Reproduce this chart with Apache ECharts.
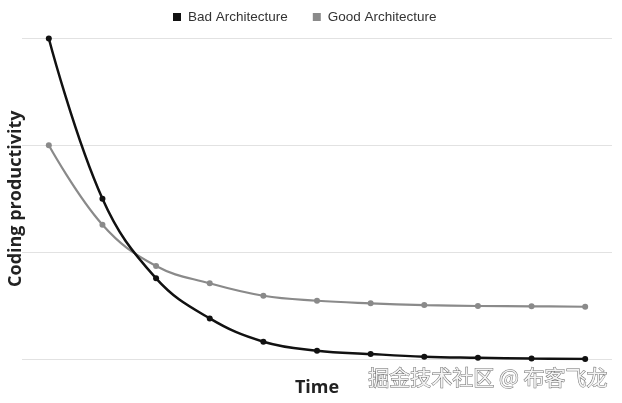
<!DOCTYPE html>
<html>
<head>
<meta charset="utf-8">
<script src="https://cdn.jsdelivr.net/npm/echarts@6/dist/echarts.min.js"></script>
<style>html,body{margin:0;padding:0;background:#fff}#c{width:622px;height:403px}</style>
</head>
<body>
<div id="c"></div>
<script>
var categories = ['1','2','3','4','5','6','7','8','9','10','11'];
var badArchitecture = [3.0, 1.5, 0.755, 0.38, 0.162, 0.078, 0.047, 0.022, 0.012, 0.004, 0.0];
var goodArchitecture = [2.0, 1.256, 0.87, 0.708, 0.592, 0.545, 0.521, 0.505, 0.496, 0.493, 0.489];
var yTicks = [0, 1, 2, 3];

var chart = echarts.init(document.getElementById('c'));
chart.setOption({
  animation: false,
  legend: {
    top: 5,
    left: 168,
    itemWidth: 8,
    itemHeight: 8,
    itemGap: 25,
    icon: 'rect',
    textStyle: {fontFamily: 'Liberation Sans, Arial', fontSize: 13.5, color: '#333', padding: [0, 0, 0, 2]},
    data: ['Bad Architecture', 'Good Architecture']
  },
  grid: {left: 22, right: 10, top: 38.5, bottom: 44, containLabel: false, outerBoundsMode: 'none'},
  xAxis: {
    type: 'category',
    data: categories,
    boundaryGap: true,
    axisLine: {show: false},
    axisTick: {show: false},
    axisLabel: {show: false},
    name: 'Time',
    nameLocation: 'middle',
    nameGap: 20,
    nameMoveOverlap: false,
    nameTextStyle: {fontFamily: 'Open Sans, DejaVu Sans', fontSize: 18, fontWeight: 'bold', color: '#222'}
  },
  yAxis: {
    type: 'value',
    min: yTicks[0],
    max: yTicks[yTicks.length - 1],
    interval: 1,
    axisLine: {show: false},
    axisTick: {show: false},
    axisLabel: {show: false},
    splitLine: {lineStyle: {color: '#e2e2e2', width: 1}},
    name: 'Coding productivity',
    nameLocation: 'middle',
    nameGap: -3,
    nameMoveOverlap: false,
    nameTextStyle: {fontFamily: 'Open Sans, DejaVu Sans', fontSize: 18, fontWeight: 'bold', color: '#222'}
  },
  series: [
    {
      name: 'Bad Architecture',
      type: 'line',
      data: badArchitecture,
      smooth: 0.4,
      symbol: 'circle',
      symbolSize: 6,
      z: 3,
      itemStyle: {color: '#111'},
      lineStyle: {color: '#111', width: 2.5}
    },
    {
      name: 'Good Architecture',
      type: 'line',
      data: goodArchitecture,
      smooth: 0.4,
      symbol: 'circle',
      symbolSize: 6,
      z: 2,
      itemStyle: {color: '#8a8a8a'},
      lineStyle: {color: '#8a8a8a', width: 2.2}
    }
  ],
  graphic: [{
    type: 'text',
    right: 14,
    top: 366,
    z: 100,
    style: {
      text: '掘金技术社区 @ 布客飞龙',
      font: '21px "Noto Sans CJK SC"',
      fill: '#f4f4f4',
      stroke: '#6a6a6a',
      lineWidth: 1
    }
  }]
});
</script>
</body>
</html>
